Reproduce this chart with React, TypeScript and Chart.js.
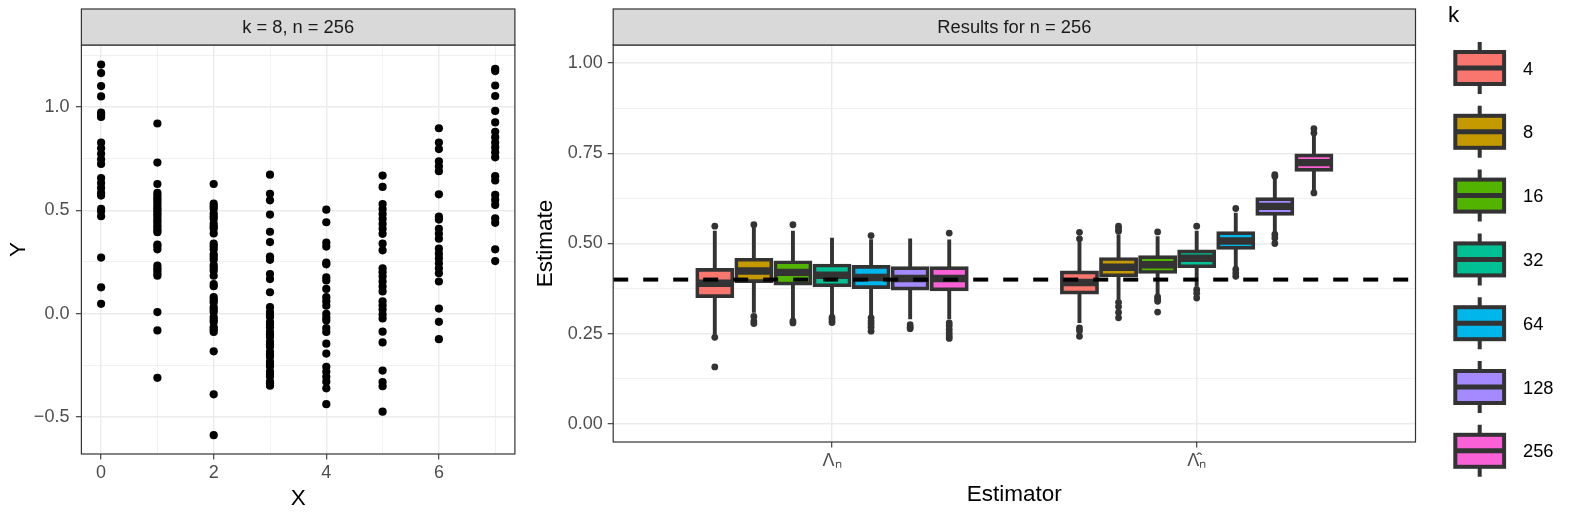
import React, { useEffect, useRef } from 'react';
import { Chart, registerables } from 'chart.js';

Chart.register(...registerables);

const FONT = '"Liberation Sans", Arial, Helvetica, sans-serif';
const GRID = '#EBEBEB';
const DARK = '#333333';
const TICK_TEXT = '#4D4D4D';

Chart.defaults.font.family = FONT;

// ---------- left panel: one sample (k = 8, n = 256) ----------
const scatterX = [0, 1, 2, 3, 4, 5, 6, 7];
const scatterY: number[][] = [
  [1.205, 1.164, 1.101, 1.051, 0.973, 0.963, 0.952, 0.827, 0.8, 0.773, 0.747, 0.724, 0.656, 0.632, 0.608,
    0.584, 0.571, 0.507, 0.495, 0.471, 0.271, 0.127, 0.047],
  [0.92, 0.731, 0.627, 0.584, 0.571, 0.558, 0.547, 0.535, 0.522, 0.51, 0.499, 0.487, 0.476, 0.462, 0.45,
    0.44, 0.426, 0.415, 0.403, 0.394, 0.334, 0.327, 0.311, 0.232, 0.219, 0.208, 0.194, 0.183, 0.007, -0.082, -0.311],
  [0.627, 0.532, 0.519, 0.507, 0.484, 0.471, 0.459, 0.435, 0.421, 0.412, 0.388, 0.338, 0.326, 0.311, 0.287,
    0.274, 0.26, 0.234, 0.221, 0.207, 0.183, 0.143, 0.132, 0.079, 0.066, 0.055, 0.031, 0.018, 0.007, -0.017,
    -0.03, -0.041, -0.066, -0.077, -0.089, -0.183, -0.391, -0.589],
  [0.672, 0.58, 0.548, 0.479, 0.396, 0.346, 0.276, 0.26, 0.191, 0.167, 0.103, 0.031, 0.007, -0.008, -0.017,
    -0.041, -0.054, -0.066, -0.089, -0.102, -0.113, -0.137, -0.149, -0.161, -0.185, -0.198, -0.209, -0.233,
    -0.244, -0.257, -0.281, -0.293, -0.305, -0.329, -0.338, -0.349],
  [0.503, 0.442, 0.343, 0.324, 0.247, 0.238, 0.175, 0.16, 0.119, 0.079, 0.06, 0.038, -0.001, -0.02, -0.034,
    -0.07, -0.089, -0.146, -0.194, -0.258, -0.282, -0.306, -0.33, -0.362, -0.439],
  [0.668, 0.613, 0.53, 0.506, 0.482, 0.458, 0.434, 0.41, 0.386, 0.338, 0.306, 0.219, 0.2, 0.179, 0.155,
    0.131, 0.107, 0.059, 0.04, 0.019, -0.005, -0.024, -0.088, -0.14, -0.276, -0.332, -0.352, -0.475],
  [0.897, 0.828, 0.796, 0.737, 0.713, 0.689, 0.577, 0.469, 0.455, 0.41, 0.386, 0.362, 0.314, 0.29, 0.267,
    0.243, 0.219, 0.195, 0.155, 0.024, -0.04, -0.124],
  [1.184, 1.174, 1.104, 1.053, 0.981, 0.925, 0.88, 0.853, 0.828, 0.804, 0.78, 0.756, 0.665, 0.644, 0.574,
    0.55, 0.526, 0.461, 0.439, 0.311, 0.254],
];
const leftXTicks = [0, 1, 2, 3, 4, 5, 6, 7];
const leftXLabels = ['0', '', '2', '', '4', '', '6', ''];
const leftYTicks = [-0.5, -0.25, 0, 0.25, 0.5, 0.75, 1, 1.25];
const leftYLabels = ['\u22120.5', '', '0.0', '', '0.5', '', '1.0', ''];

// ---------- right panel: boxplots of the estimates, n = 256 ----------
const kLevels = [4, 8, 16, 32, 64, 128, 256];
const kColours = ['#F8766D', '#C49A00', '#53B400', '#00C094', '#00B6EB', '#A58AFF', '#FB61D7'];
const estimatorX = [1, 2];
const estimatorLabels = ['\u039B\u2099', '\u039B\u0302\u2099'];
const trueValue = 0.4;

// Lambda_n
const lamQ1 = [0.354, 0.396, 0.389, 0.384, 0.379, 0.375, 0.373];
const lamMedian = [0.39, 0.424, 0.42, 0.412, 0.406, 0.403, 0.403];
const lamQ3 = [0.427, 0.455, 0.448, 0.439, 0.435, 0.432, 0.432];
const lamLow = [0.247, 0.308, 0.292, 0.3, 0.298, 0.29, 0.29];
const lamHigh = [0.535, 0.544, 0.535, 0.516, 0.512, 0.514, 0.511];
const lamOutliers = [
  [0.548, 0.24, 0.158],
  [0.552, 0.298, 0.285, 0.278],
  [0.552, 0.285, 0.28],
  [0.295, 0.288, 0.281],
  [0.522, 0.294, 0.285, 0.277, 0.268, 0.257],
  [0.275, 0.268, 0.264],
  [0.529, 0.28, 0.272, 0.262, 0.252, 0.244, 0.237],
];
// hat Lambda_n
const hatQ1 = [0.364, 0.412, 0.421, 0.437, 0.488, 0.582, 0.704];
const hatMedian = [0.392, 0.434, 0.441, 0.459, 0.507, 0.603, 0.724];
const hatQ3 = [0.42, 0.457, 0.462, 0.478, 0.529, 0.623, 0.744];
const hatLow = [0.28, 0.345, 0.36, 0.38, 0.43, 0.53, 0.645];
const hatHigh = [0.505, 0.525, 0.52, 0.535, 0.585, 0.68, 0.8];
const hatOutliers = [
  [0.531, 0.513, 0.266, 0.258, 0.243],
  [0.548, 0.54, 0.534, 0.337, 0.325, 0.309, 0.294],
  [0.532, 0.352, 0.346, 0.34, 0.31],
  [0.548, 0.372, 0.362, 0.349],
  [0.597, 0.428, 0.418, 0.409],
  [0.691, 0.686, 0.525, 0.515, 0.5],
  [0.818, 0.806, 0.64],
];
const rightYTicks = [0, 0.125, 0.25, 0.375, 0.5, 0.625, 0.75, 0.875, 1];
const rightYLabels = ['0.00', '', '0.25', '', '0.50', '', '0.75', '', '1.00'];

const q1By = [lamQ1, hatQ1];
const medianBy = [lamMedian, hatMedian];
const q3By = [lamQ3, hatQ3];
const lowBy = [lamLow, hatLow];
const highBy = [lamHigh, hatHigh];
const outliersBy = [lamOutliers, hatOutliers];

const gridFor = (labels: string[]) => ({
  color: GRID,
  lineWidth: (c: any) => (labels[c.index] ? 1.4 : 0.7),
  tickColor: (c: any) => (labels[c.index] ? DARK : 'rgba(0,0,0,0)'),
  tickWidth: 1.1,
  tickLength: 5.5,
  offset: false,
});

const tickFont = { size: 18 };
const titleFont = { size: 22.5 };

// strip on top of the panel and the panel frame
const panelPlugin = {
  id: 'panelStrip',
  afterDraw(chart: any, _args: any, opts: any) {
    const { ctx } = chart;
    const { left, right, top, bottom } = chart.chartArea;
    ctx.save();
    ctx.lineWidth = 1.2;
    ctx.strokeStyle = DARK;
    ctx.strokeRect(left, top, right - left, bottom - top);
    ctx.fillStyle = '#D9D9D9';
    ctx.fillRect(left, top - 36, right - left, 36);
    ctx.strokeRect(left, top - 36, right - left, 36);
    ctx.fillStyle = '#1A1A1A';
    ctx.font = `18.3px ${FONT}`;
    ctx.textAlign = 'center';
    ctx.textBaseline = 'middle';
    ctx.fillText(opts.text, (left + right) / 2, top - 17.5);
    ctx.restore();
  },
};

// whiskers, medians, outliers and the true-value line
const boxPlugin = {
  id: 'boxParts',
  beforeDatasetsDraw(chart: any) {
    const { ctx } = chart;
    const y = chart.scales.y;
    ctx.save();
    ctx.strokeStyle = DARK;
    ctx.lineWidth = 3.9;
    chart.data.datasets.forEach((ds: any, i: number) => {
      chart.getDatasetMeta(i).data.forEach((bar: any, j: number) => {
        const s = ds.stats[j];
        ctx.beginPath();
        ctx.moveTo(bar.x, y.getPixelForValue(s.high));
        ctx.lineTo(bar.x, y.getPixelForValue(s.q3));
        ctx.moveTo(bar.x, y.getPixelForValue(s.q1));
        ctx.lineTo(bar.x, y.getPixelForValue(s.low));
        ctx.stroke();
      });
    });
    ctx.restore();
  },
  afterDatasetsDraw(chart: any) {
    const { ctx } = chart;
    const y = chart.scales.y;
    ctx.save();
    chart.data.datasets.forEach((ds: any, i: number) => {
      chart.getDatasetMeta(i).data.forEach((bar: any, j: number) => {
        const s = ds.stats[j];
        const py = y.getPixelForValue(s.median);
        ctx.strokeStyle = DARK;
        ctx.lineWidth = 7.4;
        ctx.beginPath();
        ctx.moveTo(bar.x - bar.width / 2, py);
        ctx.lineTo(bar.x + bar.width / 2, py);
        ctx.stroke();
        ctx.fillStyle = DARK;
        s.outliers.forEach((v: number) => {
          ctx.beginPath();
          ctx.arc(bar.x, y.getPixelForValue(v), 3.4, 0, Math.PI * 2);
          ctx.fill();
        });
      });
    });
    const { left, right } = chart.chartArea;
    const ly = y.getPixelForValue(trueValue);
    ctx.strokeStyle = '#000000';
    ctx.lineWidth = 4;
    ctx.setLineDash([15, 15]);
    ctx.beginPath();
    ctx.moveTo(left, ly);
    ctx.lineTo(right, ly);
    ctx.stroke();
    ctx.restore();
  },
};

// legend "k" with boxplot keys
const keyPlugin = {
  id: 'boxKeys',
  afterDraw(chart: any) {
    const { ctx } = chart;
    const x0 = 918;
    const cx = 949.7;
    ctx.save();
    ctx.fillStyle = '#000000';
    ctx.font = `22.5px ${FONT}`;
    ctx.textAlign = 'left';
    ctx.textBaseline = 'middle';
    ctx.fillText('k', x0, 16);
    kLevels.forEach((k, i) => {
      const cy = 68 + 63.8 * i;
      ctx.strokeStyle = DARK;
      ctx.lineWidth = 4;
      ctx.beginPath();
      ctx.moveTo(cx, cy - 26);
      ctx.lineTo(cx, cy - 16);
      ctx.moveTo(cx, cy + 16);
      ctx.lineTo(cx, cy + 26);
      ctx.stroke();
      ctx.fillStyle = kColours[i];
      ctx.fillRect(cx - 24.4, cy - 16, 48.8, 32);
      ctx.strokeRect(cx - 24.4, cy - 16, 48.8, 32);
      ctx.lineWidth = 5;
      ctx.beginPath();
      ctx.moveTo(cx - 24.4, cy);
      ctx.lineTo(cx + 24.4, cy);
      ctx.stroke();
      ctx.fillStyle = '#000000';
      ctx.font = `18.3px ${FONT}`;
      ctx.fillText(String(k), 993, cy + 1.5);
    });
    ctx.restore();
  },
};

export default function App() {
  const leftRef = useRef<HTMLCanvasElement>(null);
  const rightRef = useRef<HTMLCanvasElement>(null);

  useEffect(() => {
    if (!leftRef.current || !rightRef.current) return;

    const scatterData = scatterX.flatMap((x, i) => scatterY[i].map((v) => ({ x, y: v })));

    const left = new Chart(leftRef.current, {
      type: 'scatter',
      data: {
        datasets: [
          {
            data: scatterData,
            pointRadius: 4.1,
            pointHoverRadius: 4.1,
            pointBackgroundColor: '#000000',
            pointBorderWidth: 0,
          },
        ],
      },
      options: {
        animation: false,
        responsive: true,
        maintainAspectRatio: false,
        events: [],
        layout: { padding: { top: 45, right: 15.1, bottom: 0, left: 0 } },
        plugins: {
          legend: { display: false },
          tooltip: { enabled: false },
          panelStrip: { text: 'k = 8, n = 256' },
        } as any,
        scales: {
          x: {
            type: 'linear',
            min: -0.35,
            max: 7.35,
            bounds: 'data',
            afterBuildTicks: (s: any) => {
              s.ticks = leftXTicks.map((v) => ({ value: v }));
            },
            afterFit: (s: any) => {
              s.height = 70;
            },
            ticks: {
              callback: (_v: any, i: number) => leftXLabels[i],
              autoSkip: false,
              maxRotation: 0,
              padding: 3,
              color: TICK_TEXT,
              font: tickFont,
            },
            grid: gridFor(leftXLabels),
            border: { display: false },
            title: { display: true, text: 'X', color: '#000000', font: titleFont, padding: { top: 0, bottom: 11.5 } },
          },
          y: {
            type: 'linear',
            min: -0.68,
            max: 1.3,
            bounds: 'data',
            afterBuildTicks: (s: any) => {
              s.ticks = leftYTicks.map((v) => ({ value: v }));
            },
            afterFit: (s: any) => {
              s.width = 81.4;
            },
            ticks: {
              callback: (_v: any, i: number) => leftYLabels[i],
              autoSkip: false,
              padding: 6.5,
              color: TICK_TEXT,
              font: tickFont,
            },
            grid: gridFor(leftYLabels),
            border: { display: false },
            title: { display: true, text: 'Y', color: '#000000', font: titleFont, padding: { top: 5.1, bottom: 0 } },
          },
        },
      } as any,
      plugins: [panelPlugin],
    });

    const datasets = kLevels.map((k, i) => ({
      label: String(k),
      data: estimatorX.map((x, e) => ({ x, y: [q1By[e][i], q3By[e][i]] })),
      stats: estimatorX.map((_x, e) => ({
        q1: q1By[e][i],
        median: medianBy[e][i],
        q3: q3By[e][i],
        low: lowBy[e][i],
        high: highBy[e][i],
        outliers: outliersBy[e][i],
      })),
      backgroundColor: kColours[i],
      borderColor: DARK,
      borderWidth: 3.7,
      borderSkipped: false,
      inflateAmount: 1.85,
      barPercentage: 0.9,
      categoryPercentage: 0.75,
    }));

    const right = new Chart(rightRef.current, {
      type: 'bar',
      data: { datasets } as any,
      options: {
        animation: false,
        responsive: true,
        maintainAspectRatio: false,
        events: [],
        layout: { padding: { top: 45, right: 162.5, bottom: 0, left: 0 } },
        plugins: {
          legend: { display: false },
          tooltip: { enabled: false },
          panelStrip: { text: 'Results for n = 256' },
        } as any,
        scales: {
          x: {
            type: 'linear',
            min: 0.4,
            max: 2.6,
            bounds: 'data',
            offset: false,
            afterBuildTicks: (s: any) => {
              s.ticks = estimatorX.map((v) => ({ value: v }));
            },
            afterFit: (s: any) => {
              s.height = 82;
            },
            ticks: {
              callback: (_v: any, i: number) => estimatorLabels[i],
              autoSkip: false,
              maxRotation: 0,
              padding: 3,
              color: TICK_TEXT,
              font: tickFont,
            },
            grid: gridFor(estimatorLabels),
            border: { display: false },
            title: {
              display: true,
              text: 'Estimator',
              color: '#000000',
              font: titleFont,
              padding: { top: 0, bottom: 15.5 },
            },
          },
          y: {
            type: 'linear',
            min: -0.05,
            max: 1.05,
            bounds: 'data',
            beginAtZero: false,
            afterBuildTicks: (s: any) => {
              s.ticks = rightYTicks.map((v) => ({ value: v }));
            },
            afterFit: (s: any) => {
              s.width = 83.2;
            },
            ticks: {
              callback: (_v: any, i: number) => rightYLabels[i],
              autoSkip: false,
              padding: 5,
              color: TICK_TEXT,
              font: tickFont,
            },
            grid: gridFor(rightYLabels),
            border: { display: false },
            title: {
              display: true,
              text: 'Estimate',
              color: '#000000',
              font: titleFont,
              padding: { top: 2.3, bottom: 0 },
            },
          },
        },
      } as any,
      plugins: [panelPlugin, boxPlugin, keyPlugin],
    });

    return () => {
      left.destroy();
      right.destroy();
    };
  }, []);

  return (
    <div style={{ position: 'absolute', left: 0, top: 0, width: 1578, height: 524, background: '#ffffff' }}>
      <div style={{ position: 'absolute', left: 0, top: 0, width: 530, height: 524 }}>
        <canvas ref={leftRef} />
      </div>
      <div style={{ position: 'absolute', left: 530, top: 0, width: 1048, height: 524 }}>
        <canvas ref={rightRef} />
      </div>
    </div>
  );
}
